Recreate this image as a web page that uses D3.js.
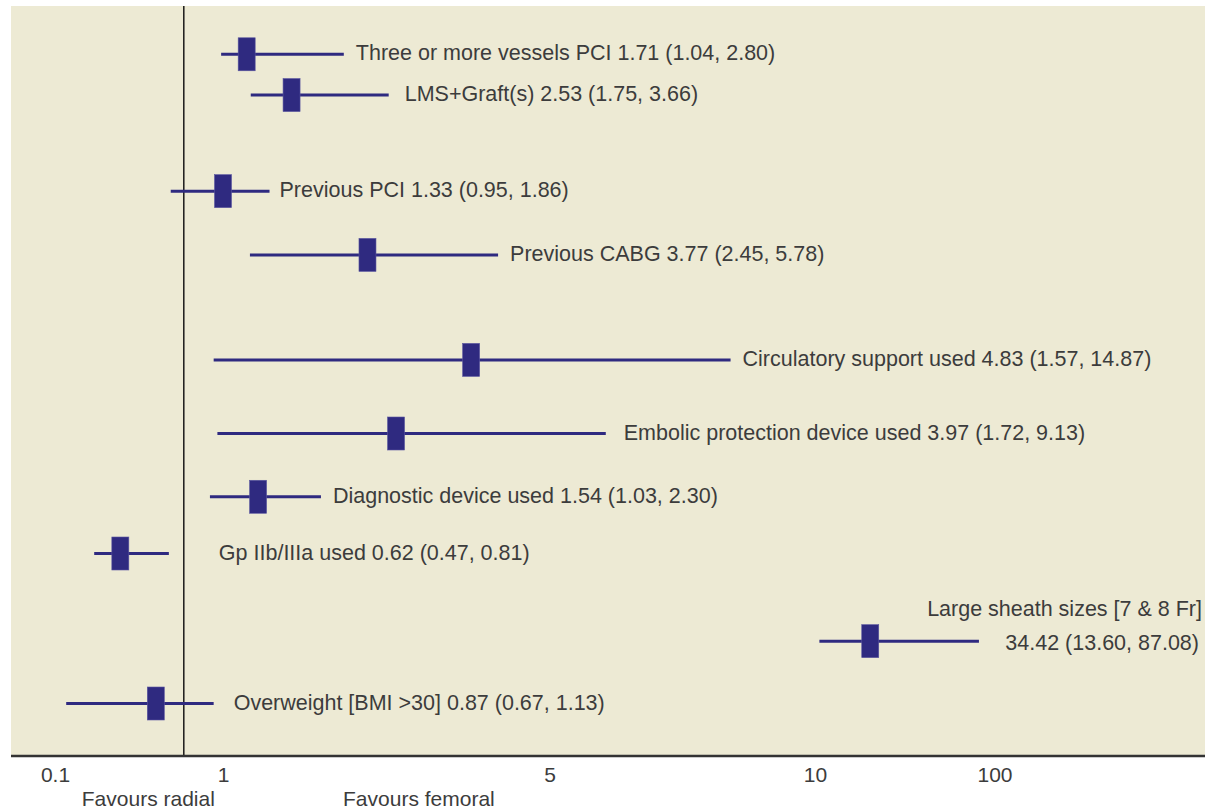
<!DOCTYPE html>
<html>
<head>
<meta charset="utf-8">
<script src="https://cdn.jsdelivr.net/npm/d3@7"></script>
<style>
body { margin: 0; background: #fff; }
svg { display: block; }
text { font-family: "Liberation Sans", Arial, sans-serif; }
</style>
</head>
<body>
<div id="chart"></div>
<script>
// factors and the odds ratios printed next to them
var factors = ["Three or more vessels PCI", "LMS+Graft(s)", "Previous PCI", "Previous CABG",
    "Circulatory support used", "Embolic protection device used", "Diagnostic device used",
    "Gp IIb/IIIa used", "Large sheath sizes [7 & 8 Fr]", "Overweight [BMI >30]"];
var oddsRatio = [1.71, 2.53, 1.33, 3.77, 4.83, 3.97, 1.54, 0.62, 34.42, 0.87];
var ciLow = [1.04, 1.75, 0.95, 2.45, 1.57, 1.72, 1.03, 0.47, 13.60, 0.67];
var ciHigh = [2.80, 3.66, 1.86, 5.78, 14.87, 9.13, 2.30, 0.81, 87.08, 1.13];

// where the marks actually sit on the drawn axis
var plotEst = [1.29, 1.84, 1.00, 2.77, 4.04, 3.12, 1.43, 0.45, 37.7, 0.64];
var plotLow = [0.99, 1.34, 0.72, 1.33, 0.95, 0.97, 0.93, 0.31, 12.2, 0.16];
var plotHigh = [2.48, 3.03, 1.57, 4.37, 8.41, 6.06, 2.20, 0.71, 92.2, 0.95];

// vertical position of each row, in row units
var rowPos = [1.03, 1.90, 3.95, 5.31, 7.55, 9.12, 10.47, 11.68, 13.55, 14.88];

var tickVals = [0.1, 1, 5, 10, 100];
var refValue = 0.79;
var favours = ["Favours radial", "Favours femoral"];
var favoursAt = [0.6, 3.4];

// layout
var width = 1205, height = 811;
var plotLeft = 11, plotTop = 6, plotBottom = 756;
var tickX = [55, 223, 549.5, 815, 994.5];
var labelNudge = [0, 4, -2, 0, 0, 6, 0, 38, 0, 8];
var splitRow = 8;
var fontSize = "21.5px";
var ink = "#2f2a80", textCol = "#3c3c3c";

var svg = d3.select("#chart").append("svg")
    .attr("width", width)
    .attr("height", height);

var x = d3.scaleLinear().domain(tickVals).range(tickX);
var y = d3.scaleLinear().domain([0, 16]).range([plotTop, plotBottom]);

svg.append("rect")
    .attr("x", plotLeft)
    .attr("y", plotTop)
    .attr("width", width - plotLeft)
    .attr("height", plotBottom - plotTop)
    .attr("fill", "#edead4");

// reference line
svg.append("line")
    .attr("x1", x(refValue)).attr("x2", x(refValue))
    .attr("y1", plotTop).attr("y2", plotBottom)
    .attr("stroke", "#1a1a1a")
    .attr("stroke-width", 1.5);

var rows = factors.map(function (name, i) {
    return { name: name, or: oddsRatio[i], lo: ciLow[i], hi: ciHigh[i],
             est: plotEst[i], pLo: plotLow[i], pHi: plotHigh[i], pos: rowPos[i], i: i };
});

var g = svg.selectAll("g.row").data(rows).enter().append("g").attr("class", "row");

g.append("line")
    .attr("x1", function (d) { return x(d.pLo); })
    .attr("x2", function (d) { return x(d.pHi); })
    .attr("y1", function (d) { return y(d.pos); })
    .attr("y2", function (d) { return y(d.pos); })
    .attr("stroke", ink)
    .attr("stroke-width", 3);

g.append("rect")
    .attr("x", function (d) { return x(d.est) - 8.5; })
    .attr("y", function (d) { return y(d.pos) - 16.5; })
    .attr("width", 17)
    .attr("height", 33)
    .attr("fill", ink)
    .attr("stroke", "#5a56a0")
    .attr("stroke-width", 0.6);

var f = d3.format(".2f");
function stats(d) { return f(d.or) + " (" + f(d.lo) + ", " + f(d.hi) + ")"; }

g.filter(function (d) { return d.i != splitRow; })
    .append("text")
    .attr("x", function (d) { return x(d.pHi) + 12 + labelNudge[d.i]; })
    .attr("y", function (d) { return y(d.pos) + 6; })
    .attr("font-size", fontSize)
    .attr("fill", textCol)
    .text(function (d) { return d.name + " " + stats(d); });

var split = g.filter(function (d) { return d.i == splitRow; });
split.append("text")
    .attr("x", width - 3)
    .attr("y", function (d) { return y(d.pos) - 25; })
    .attr("text-anchor", "end")
    .attr("font-size", fontSize)
    .attr("fill", textCol)
    .text(function (d) { return d.name; });
split.append("text")
    .attr("x", width - 6)
    .attr("y", function (d) { return y(d.pos) + 9; })
    .attr("text-anchor", "end")
    .attr("font-size", fontSize)
    .attr("fill", textCol)
    .text(function (d) { return stats(d); });

// axis
var axis = svg.append("g")
    .attr("transform", "translate(0," + plotBottom + ")")
    .call(d3.axisBottom(x).tickValues(tickVals).tickSize(0).tickPadding(11)
        .tickFormat(function (d) { return String(d); }));
axis.select(".domain").remove();
axis.selectAll("text")
    .attr("font-size", "21px")
    .attr("font-family", "Liberation Sans, Arial, sans-serif")
    .attr("fill", textCol);

svg.append("line")
    .attr("x1", plotLeft).attr("x2", width)
    .attr("y1", plotBottom).attr("y2", plotBottom)
    .attr("stroke", "#333")
    .attr("stroke-width", 2.5);

svg.selectAll("text.favours").data(favours).enter().append("text")
    .attr("class", "favours")
    .attr("x", function (d, i) { return x(favoursAt[i]); })
    .attr("y", 806)
    .attr("text-anchor", "middle")
    .attr("font-size", "21px")
    .attr("fill", textCol)
    .text(function (d) { return d; });
</script>
</body>
</html>
